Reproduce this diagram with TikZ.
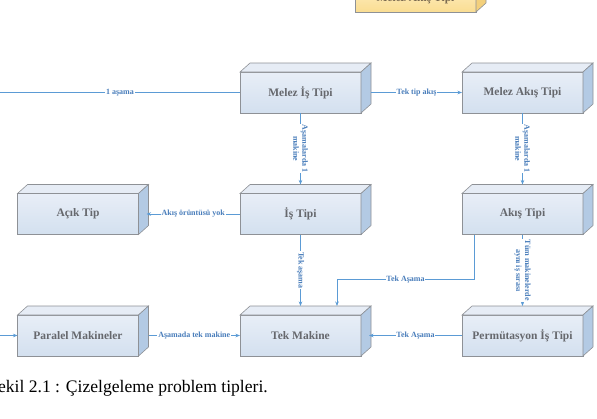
\documentclass[tikz,border=0pt]{standalone}
\usepackage{fontspec}
\setmainfont{Liberation Serif}
\usepackage{tikz}
\usetikzlibrary{arrows.meta,calc}
\definecolor{boxgray}{HTML}{8E9196}
\definecolor{fronttop}{HTML}{E8EEF7}
\definecolor{frontbot}{HTML}{D3E0EF}
\definecolor{topblue}{HTML}{E6ECF5}
\definecolor{sideblue}{HTML}{B3CAE4}
\definecolor{boxtext}{HTML}{66686D}
\definecolor{yeltop}{HTML}{FEEEC2}
\definecolor{yelbot}{HTML}{FADD92}
\definecolor{yelside}{HTML}{F3D07C}
\definecolor{yeltext}{HTML}{7A6A50}
\definecolor{linkblue}{HTML}{5B9BD5}
\definecolor{lblblue}{HTML}{4A7EBB}

\begin{document}
\begin{tikzpicture}[x=1pt, y=-1pt,
  box/.style={draw=boxgray, line width=0.6pt, top color=fronttop, bottom color=frontbot,
    minimum width=121pt, minimum height=41pt, inner sep=0pt, outer sep=0pt,
    font=\fontsize{11.5}{13}\selectfont\bfseries, text=boxtext},
  link/.style={draw=linkblue, line width=0.6pt},
  arr/.style={link, -{Stealth[length=4.5pt,width=3.5pt]}},
  lbl/.style={fill=white, inner sep=0.8pt, text=lblblue, align=center,
    font=\fontsize{8}{9}\selectfont\bfseries}]
  \useasboundingbox (0,0) rectangle (597,418);
  % boxes
  \node[box, top color=yeltop, bottom color=yelbot, minimum height=27pt, text=yeltext] (melezlbl) at (415.5,-1.5) {Melez Akış Tipi};
  \node[box] (melezis)   at (300.5,92.5)  {Melez İş Tipi};
  \node[box] (melezakis) at (522.5,92.5)  {Melez Akış Tipi};
  \node[box] (acik)      at (78,214)      {Açık Tip};
  \node[box] (istipi)    at (300.5,214)   {İş Tipi};
  \node[box] (akistipi)  at (522.5,214)   {Akış Tipi};
  \node[box] (paralel)   at (78,335.5)    {Paralel Makineler};
  \node[box] (tekmak)    at (300.5,335.5) {Tek Makine};
  \node[box] (perm)      at (522.5,335.5) {Permütasyon İş Tipi};
  % depth faces
  \foreach \n/\t/\s in {melezlbl/yeltop/yelside, melezis/topblue/sideblue, melezakis/topblue/sideblue,
      acik/topblue/sideblue, istipi/topblue/sideblue, akistipi/topblue/sideblue,
      paralel/topblue/sideblue, tekmak/topblue/sideblue, perm/topblue/sideblue} {
    \filldraw[draw=boxgray, line width=0.6pt, fill=\t] (\n.north west) -- ++(10,-9)
      -- ($(\n.north east)+(10,-9)$) -- (\n.north east) -- cycle;
    \filldraw[draw=boxgray, line width=0.6pt, fill=\s] (\n.north east) -- ++(10,-9)
      -- ($(\n.south east)+(10,-9)$) -- (\n.south east) -- cycle;
  }
  % free ends at the left border
  \coordinate (left1) at (0,92.5);
  \coordinate (left3) at (0,335.5);
  % connectors
  \draw[link] (left1) -- node[lbl] {1 aşama} (melezis.west);
  \draw[arr] ($(melezis.east)+(10,0)$) -- node[lbl] {Tek tip akış} (melezakis.west);
  \draw[arr] (melezis.south) -- node[lbl, rotate=-90] {Aşamalarda 1\\makine} ($(istipi.north)+(0,-9)$);
  \draw[arr] (melezakis.south) -- node[lbl, rotate=-90] {Aşamalarda 1\\makine} ($(akistipi.north)+(0,-9)$);
  \draw[arr] (istipi.west) -- node[lbl] {Akış örüntüsü yok} ($(acik.east)+(8,0)$);
  \draw[arr] (istipi.south) -- node[lbl, rotate=-90] {Tek aşama} ($(tekmak.north)+(0,-9)$);
  \draw[arr] ($(akistipi.south west)+(12,0)$) -- ++(0,45) -| node[lbl, pos=0.25] {Tek Aşama} ($(tekmak.north west)+(97,-9)$);
  \draw[arr] (akistipi.south) -- node[lbl, rotate=-90] {Tüm makinelerde\\aynı iş sırası} ($(perm.north)+(0,-9)$);
  \draw[arr] (perm.west) -- node[lbl] {Tek Aşama} ($(tekmak.east)+(8,0)$);
  \draw[arr] (left3) -- (paralel.west);
  \draw[arr] ($(paralel.east)+(10,0)$) -- node[lbl] {Aşamada tek makine} (tekmak.west);
  % caption
  \node[anchor=base east, inner sep=0pt, font=\fontsize{17.6}{21}\selectfont] (caption) at (268,392) {Şekil 2.1 : Çizelgeleme problem tipleri.};
\end{tikzpicture}
\end{document}
